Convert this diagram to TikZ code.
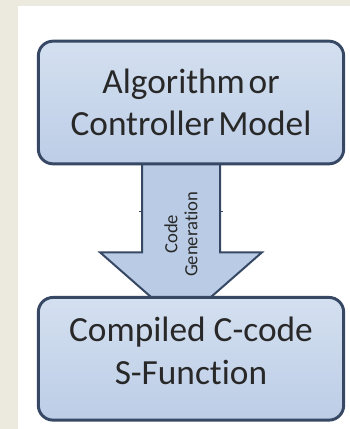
\documentclass[tikz,border=0pt]{standalone}
\usepackage{fontspec}
\setmainfont{Carlito}[Ligatures=NoCommon]
\usetikzlibrary{positioning,backgrounds}

\definecolor{pagebg}{RGB}{236,233,223}
\definecolor{boxtop}{RGB}{212,224,240}
\definecolor{boxbot}{RGB}{188,205,230}
\definecolor{boxedge}{RGB}{55,72,100}
\definecolor{arrowfill}{RGB}{186,204,229}
\definecolor{labelgray}{RGB}{40,40,40}

\tikzset{
  boxtext/.style={align=center, text=labelgray,
    font=\fontsize{26.5}{32}\selectfont},
  block/.style={boxtext, draw=boxedge, line width=2.2pt, rounded corners=11pt,
    top color=boxtop, bottom color=boxbot, minimum width=229pt,
    minimum height=92pt},
  flow/.style={draw=boxedge, line width=1.5pt, fill=arrowfill, line join=miter},
  flowlabel/.style={rotate=90, align=center, text=labelgray,
    font=\fontsize{14}{15}\selectfont},
}

\begin{document}
\begin{tikzpicture}[x=0.75pt, y=-0.75pt]
\useasboundingbox (0,0) rectangle (350,429);
\node[block] (model) at (191,102.5) {Algorithm\hspace{-0.12em} or\\Controller\hspace{-0.12em} Model};
\node[block, below=98pt of model] (sfun) {};
\node[boxtext] (sfuntext) at ([yshift=6pt]sfun.center) {Compiled C-code\\S-Function};
\begin{scope}[on background layer]
  \fill[pagebg] (0,0) rectangle (350,429);
  \fill[white] (18,6) rectangle (350,429);
  % block arrow between the two boxes
  \begin{scope}[shift={(model.south)}]
    \draw[flow] (-49,-2) -- (-49,87) -- (-91,87) -- (-10,158)
      -- (71,87) -- (29,87) -- (29,-2) -- cycle;
    \draw[boxedge, line width=1pt] (-52,46) -- (-49,46) (29,46) -- (32,46);
    \node[flowlabel] (gen) at (-10,69) {Code\\Generation};
  \end{scope}
\end{scope}
\end{tikzpicture}
\end{document}
